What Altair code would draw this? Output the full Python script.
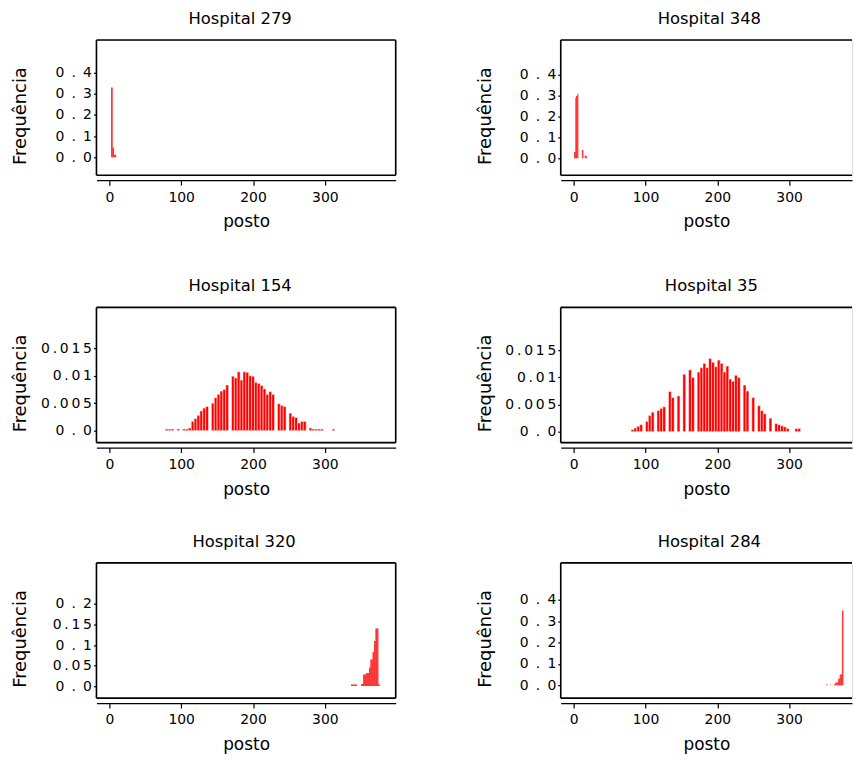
import altair as alt
import pandas as pd

# ---------------- data ----------------
titles = ["Hospital 279", "Hospital 348", "Hospital 154", "Hospital 35", "Hospital 320", "Hospital 284"]

posto_279 = [3, 4, 5, 6, 7, 8, 9]
freq_279 = [0.33, 0.33, 0.045, 0.045, 0.012, 0.012, 0.012]

posto_348 = [1, 2, 3, 4, 5, 6, 12, 13, 16, 17, 18]
freq_348 = [0.03, 0.03, 0.29, 0.30, 0.30, 0.31, 0.04, 0.04, 0.015, 0.01, 0.01]

posto_154 = [80, 84, 88, 92, 96, 100, 104, 108, 112, 116, 120, 124, 128, 132, 136, 140,
             144, 148, 152, 156, 160, 164, 168, 172, 176, 180, 184, 188, 192, 196, 200,
             204, 208, 212, 216, 220, 224, 228, 232, 236, 240, 244, 248, 252, 256, 260,
             264, 268, 272, 276, 280, 284, 288, 292, 296, 300, 304, 308, 312]
freq_154 = [0.0003, 0.0003, 0.0003, 0.0, 0.0003, 0.0, 0.0003, 0.0003, 0.0005, 0.0017,
            0.0022, 0.0028, 0.0036, 0.0041, 0.0044, 0.0, 0.0050, 0.0060, 0.0066, 0.0072,
            0.0075, 0.0083, 0.0, 0.0099, 0.0096, 0.0107, 0.0092, 0.0107, 0.0106, 0.0100,
            0.0099, 0.0088, 0.0086, 0.0082, 0.0076, 0.0066, 0.0071, 0.0066, 0.0, 0.0049,
            0.0046, 0.0044, 0.0, 0.0032, 0.0026, 0.0024, 0.0014, 0.0017, 0.0017, 0.0,
            0.0005, 0.0003, 0.0003, 0.0003, 0.0003, 0.0, 0.0, 0.0, 0.0003]

posto_35 = [82, 86, 90, 94, 98, 102, 106, 110, 114, 118, 122, 126, 130, 134, 138, 142,
            146, 150, 154, 158, 162, 166, 170, 174, 178, 182, 186, 190, 194, 198, 202,
            206, 210, 214, 218, 222, 226, 230, 234, 238, 242, 246, 250, 254, 258, 262,
            266, 270, 274, 278, 282, 286, 290, 294, 298, 302, 306, 310, 314]
freq_35 = [0.0004, 0.0007, 0.0010, 0.0013, 0.0, 0.0019, 0.0030, 0.0036, 0.0, 0.0039,
           0.0043, 0.0046, 0.0, 0.0074, 0.0063, 0.0, 0.0066, 0.0, 0.0106, 0.0, 0.0114,
           0.0100, 0.0, 0.0110, 0.0118, 0.0126, 0.0118, 0.0135, 0.0128, 0.0120, 0.0132,
           0.0126, 0.0110, 0.0121, 0.0097, 0.0093, 0.0104, 0.0100, 0.0, 0.0086, 0.0075,
           0.0, 0.0063, 0.0, 0.0048, 0.0039, 0.0033, 0.0, 0.0025, 0.0, 0.0015, 0.0013,
           0.0011, 0.0009, 0.0006, 0.0, 0.0, 0.0006, 0.0006]

posto_320 = [337, 338, 339, 340, 341, 342, 343, 344, 351, 352, 353, 354, 355, 356, 357,
             358, 359, 360, 361, 362, 363, 364, 365, 366, 367, 368, 369, 370, 371, 372,
             373, 374, 375, 376]
freq_320 = [0.004, 0.004, 0.004, 0.004, 0.004, 0.004, 0.004, 0.004, 0.005, 0.005, 0.005,
            0.028, 0.028, 0.028, 0.028, 0.032, 0.032, 0.032, 0.032, 0.045, 0.045, 0.065,
            0.065, 0.065, 0.083, 0.083, 0.11, 0.11, 0.14, 0.14, 0.14, 0.14, 0.004, 0.004]

posto_284 = [352, 353, 358, 363, 364, 365, 366, 367, 368, 369, 370, 371, 372, 373, 374, 375]
freq_284 = [0.003, 0.003, 0.003, 0.004, 0.004, 0.012, 0.012, 0.012, 0.012, 0.03, 0.03,
            0.05, 0.05, 0.05, 0.35, 0.35]

ticks_big = [0, 0.1, 0.2, 0.3, 0.4]
ticks_small = [0, 0.005, 0.01, 0.015]
ticks_mid = [0, 0.05, 0.1, 0.15, 0.2]
x_ticks = [0, 100, 200, 300]

# ---------------- style ----------------
FONT = "DejaVu Sans"
RED = "#ff0000"
H = 136
W_LEFT = 301
W_RIGHT = 293
PX_PER_RANK = 0.7225

Y_LABEL_EXPR = (
    "length(toString(datum.value)) <= 1 ? '0\u00a0\u2009.\u00a0\u20090' : "
    "(length(toString(datum.value)) == 3 ? join(split(toString(datum.value), ''), '\u00a0\u2009') : "
    "join(split(toString(datum.value), ''), '\u2009'))"
)


def panel(title, posto, freq, binw, ydom, yticks, width, right_side, tdx):
    df = pd.DataFrame({"posto": posto, "freq": freq})
    df["x0"] = df["posto"] - binw / 2.0
    df["x1"] = df["posto"] + binw / 2.0
    xscale = alt.Scale(domain=[-18, -18 + width / PX_PER_RANK], nice=False, zero=False)
    yscale = alt.Scale(domain=ydom, nice=False, zero=False)
    xaxis = alt.Axis(values=x_ticks, offset=5, tickSize=5, labelPadding=5,
                     domainColor="black", tickColor="black", labelColor="black",
                     domainWidth=1.2, tickWidth=1.2,
                     labelFont=FONT, labelFontSize=14, labelFlush=False,
                     titleFont=FONT, titleFontSize=17, titleFontWeight="normal",
                     titleColor="black", titlePadding=10, grid=False)
    yaxis = alt.Axis(values=yticks, domain=False, tickSize=3, tickColor="black",
                     tickWidth=1.2, labelPadding=2, labelExpr=Y_LABEL_EXPR,
                     labelFont=FONT, labelFontSize=14, labelColor="black",
                     titleFont=FONT, titleFontSize=18, titleFontWeight="normal",
                     titleColor="black", titleX=-76, titleY=76,
                     titleAlign="center", titleBaseline="middle", grid=False)
    if binw > 1:
        mark = alt.Chart(df).mark_rect(color=RED, stroke="white", strokeWidth=0.5)
    else:
        mark = alt.Chart(df).mark_rect(color=RED)
    bars = mark.encode(
        x=alt.X("x0:Q", scale=xscale, axis=xaxis, title="posto"),
        x2="x1:Q",
        y=alt.Y("freq:Q", scale=yscale, axis=yaxis, title="Frequência"),
        y2=alt.datum(0),
    )
    fdf = pd.DataFrame({"k": [0]})
    fb = alt.Chart(fdf)
    rule = dict(color="black", strokeWidth=1.6)
    top = fb.mark_rule(**rule).encode(x=alt.value(0), x2=alt.value(width), y=alt.value(0))
    bot = fb.mark_rule(**rule).encode(x=alt.value(0), x2=alt.value(width), y=alt.value(H))
    lef = fb.mark_rule(**rule).encode(x=alt.value(0), y=alt.value(0), y2=alt.value(H))
    layers = [bars, top, bot, lef]
    if not right_side:
        rig = fb.mark_rule(**rule).encode(x=alt.value(width), y=alt.value(0), y2=alt.value(H))
        layers.append(rig)
    return alt.layer(*layers).properties(
        width=width, height=H,
        title=alt.TitleParams(text=title, font=FONT, fontSize=16.5, fontWeight="normal",
                              color="black", offset=12, dx=tdx, anchor="middle",
                              frame="group"),
    )


p279 = panel(titles[0], posto_279, freq_279, 1, [-0.085, 0.555], ticks_big, W_LEFT, False, -6)
p348 = panel(titles[1], posto_348, freq_348, 1, [-0.081, 0.567], ticks_big, W_RIGHT, True, 3)
p154 = panel(titles[2], posto_154, freq_154, 4, [-0.00217, 0.0224], ticks_small, W_LEFT, False, -6)
p35 = panel(titles[3], posto_35, freq_35, 4, [-0.00201, 0.0229], ticks_small, W_RIGHT, True, 5)
p320 = panel(titles[4], posto_320, freq_320, 1, [-0.0293, 0.30], ticks_mid, W_LEFT, False, -2)
p284 = panel(titles[5], posto_284, freq_284, 1, [-0.061, 0.574], ticks_big, W_RIGHT, True, 3)

row1 = alt.hconcat(p279, p348, spacing=78)
row2 = alt.hconcat(p154, p35, spacing=78)
row3 = alt.hconcat(p320, p284, spacing=78)

chart = alt.vconcat(row1, alt.vconcat(row2, row3, spacing=35), spacing=47).properties(
    padding={"left": 11, "top": 8, "right": 0, "bottom": 0}
).configure_view(strokeWidth=0).configure(background="white")

chart.save("out.html", embed_options={"renderer": "svg", "actions": False})
